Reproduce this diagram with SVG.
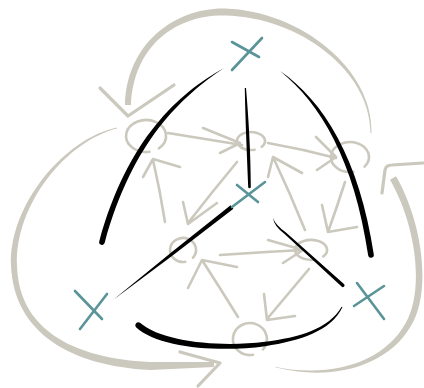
<svg xmlns="http://www.w3.org/2000/svg" width="424" height="388" viewBox="0 0 424 388">
<style>
.band{fill:#cbc8bd;stroke:none}
.thin{fill:none;stroke:#cbc8bd;stroke-width:2.6;stroke-linecap:round;stroke-linejoin:round}
.wing{fill:none;stroke:#cbc8bd;stroke-width:3.2;stroke-linecap:round;stroke-linejoin:round}
.node{fill:none;stroke:#cbc8bd;stroke-width:2.6;stroke-linecap:round}
.ink{fill:#000;stroke:none}
.cross{fill:none;stroke:#5a9498;stroke-width:2.6;stroke-linecap:round}
</style>
<rect width="424" height="388" fill="#fff"/>
<g id="connectors">
  <path class="band" d="M371.5,133 C373.5,69.5 301,11 225,8.5 C175,7.5 126.5,43.5 125,105 L131,105 C133.5,46.5 175,14.5 225,15.5 C299,17 370.5,70.5 370.5,133 Z"/>
  <path class="wing" d="M100,88 L128,116 L174,85"/>
  <path class="band" d="M117,127.6 C64.4,138.6 9,205 11,265 C13.5,332.5 70.4,366 150,370 L214,367 L214,362 L150,362 C69.6,358 18.5,327.5 17,265 C15,205 65.6,141.4 117,128.4 Z"/>
  <path class="wing" d="M180,352 L220,363 L198,386"/>
  <path class="band" d="M275,367.3 C330,381.5 386.5,367.5 410.6,326.5 C431.5,293 423.5,224 396,176.2 L390,179.8 C416.5,226 424.5,291 405.4,323.5 C383.5,363 330,378.5 275,366.7 Z"/>
  <path class="wing" d="M382,193 L385,170 Q386,165 392,165 L423,163"/>
  <path class="thin" d="M168,133 Q205,139 242,145 M203,128 L240,143 L220,153"/>
  <path class="thin" d="M165,222 Q160,190 153,160 M143,177 L153,159 L180,167"/>
  <path class="thin" d="M237,162 Q212,192 188,223 M183,202 L188,224 L217,203"/>
  <path class="thin" d="M268,143 Q302,149 336,158 M316,137 L336,157 L317,170"/>
  <path class="thin" d="M305,230 Q290,193 273,157 M268,177 L273,157 L302,173"/>
  <path class="thin" d="M345,182 Q337,207 328,232 M322,205 L328,232 L357,227"/>
  <path class="thin" d="M220,255 Q262,252 303,250 M268,240 L303,250 L283,263"/>
  <path class="thin" d="M238,317 Q220,288 202,260 M188,288 L202,260 L237,267"/>
  <path class="thin" d="M309,269 Q288,294 267,319 M264,294 L267,320 L295,316"/>
</g>
<g id="n1"><path class="node" d="M158.9,148.3 A20,16 0 1 0 149.5,151.8"/></g>
<g id="n2"><path class="node" d="M261.7,146.8 A14,9 0 1 0 254.6,149.7"/></g>
<g id="n3"><path class="node" d="M364.6,166.6 A19,15 0 1 0 353.3,171.8"/></g>
<g id="n4"><path class="node" d="M193,257.7 A13,12 0 1 0 185.3,261.8"/></g>
<g id="n5"><path class="node" d="M323.3,256.4 A16,10 0 1 0 313.8,259.8"/></g>
<g id="n6"><path class="node" d="M263,349.3 A17,16 0 1 0 253,354.8"/></g>
<g id="strokes">
  <path class="ink" d="M224,68 C181.3,96.8 132.5,141.2 104.7,242.8 A2.8,2.8 0 0 1 99.3,241.2 C127.5,138.8 178.7,93.2 224,68 Z"/>
  <path class="ink" d="M244.8,88 C245.3,120 246.8,150 248.2,187 A1.3,1.3 0 0 0 250.8,187 C250.6,150 248.7,120 246,88 Z"/>
  <path class="ink" d="M280,71 C323.2,100.4 359.7,158.9 373.8,254.6 A2.8,2.8 0 0 1 368.2,255.4 C354.3,161 320.8,103.6 280,71 Z"/>
  <path class="ink" d="M113,300 Q173,256 233.4,208.8 L230.6,205.2 Q171,252 113,300 Z"/>
  <path class="ink" d="M273,218 Q274,226 284.3,233.7 L341.8,286.8 A1.8,1.8 0 0 0 344.2,284.2 L285.7,232.3 Q275.5,225 273,218 Z"/>
  <path class="ink" d="M140,322.8 C162,342 220,347.5 265,341.8 C299,337.6 329,329 341.6,306.8 L342.4,307.2 C331,331 301,340.4 265,346.2 C220,352.5 158,348 136,327.2 A3,3 0 0 1 140,322.8 Z"/>
</g>
<g id="x1"><path class="cross" d="M232,42 L259,57 M262,38 L232,70"/></g>
<g id="x2"><path class="cross" d="M237,185 L258,202 M265,182 L232,207"/></g>
<g id="x3"><path class="cross" d="M75,291 L102,319 M107,294 L80,329"/></g>
<g id="x4"><path class="cross" d="M357,283 L384,319 M384,286 L354,306"/></g>
</svg>
